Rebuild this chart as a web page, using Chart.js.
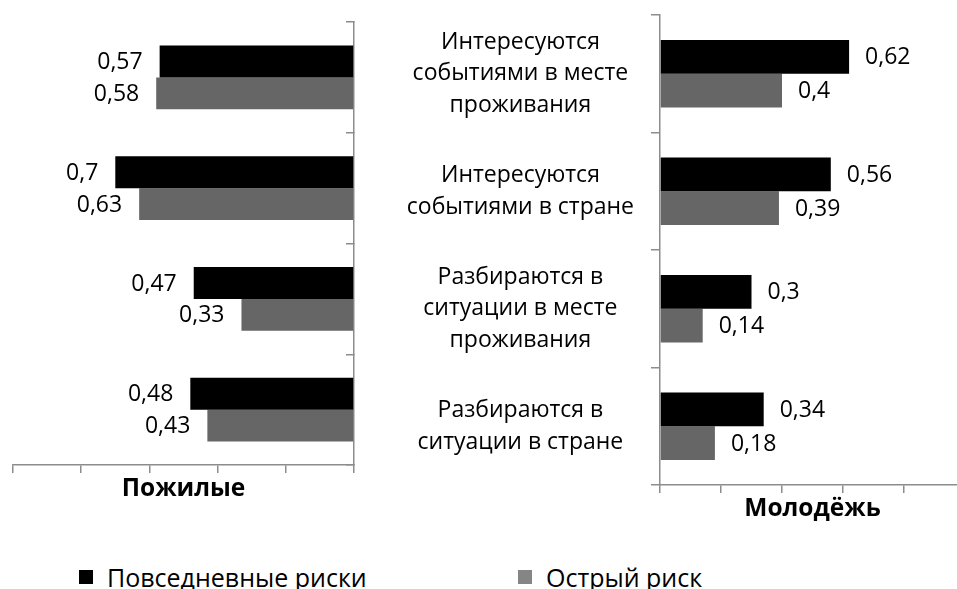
<!DOCTYPE html>
<html lang="ru">
<head>
<meta charset="utf-8">
<title>Пожилые и молодёжь</title>
<script src="https://cdn.jsdelivr.net/npm/chart.js@4.4.1/dist/chart.umd.min.js"></script>
<style>
  html, body { margin: 0; padding: 0; background: #fff; overflow: hidden; }
  body { width: 957px; height: 589px; position: relative; font-family: "Open Sans", sans-serif; }
  #left { position: absolute; left: 0; top: 0; width: 380px; height: 520px; }
  #right { position: absolute; left: 400px; top: 0; width: 600px; height: 540px; }
  .legend-item { position: absolute; top: 562px; height: 30px; display: flex; align-items: center; font-size: 25px; color: #000; white-space: nowrap; }
  .legend-item i { display: inline-block; width: 14px; height: 14px; margin-right: 14px; }
</style>
</head>
<body>
<div id="left"><canvas id="elderlyChart"></canvas></div>
<div id="right"><canvas id="youthChart"></canvas></div>
<div id="legend"></div>
<script>
// categories, top to bottom
const categories = [
    ['Интересуются', 'событиями в месте', 'проживания'],
    ['Интересуются', 'событиями в стране'],
    ['Разбираются в', 'ситуации в месте', 'проживания'],
    ['Разбираются в', 'ситуации в стране']
];
const seriesNames = ['Повседневные риски', 'Острый риск'];
const groupNames = ['Пожилые', 'Молодёжь'];

// values
const elderlyEveryday = [0.57, 0.7, 0.47, 0.48];
const elderlyAcute = [0.58, 0.63, 0.33, 0.43];
const youthEveryday = [0.62, 0.56, 0.3, 0.34];
const youthAcute = [0.4, 0.39, 0.14, 0.18];

const axisMin = 0;
const axisMax = 1;
const axisStep = 0.2;

const barColors = ['#000000', '#666666'];
const legendColors = ['#000000', '#858585'];
const axisColor = '#8c8c8c';
const fontFamily = '"Open Sans", sans-serif';
const labelSize = 23;

// draws value labels next to the bar ends
const valueLabels = {
    id: 'valueLabels',
    afterDatasetsDraw(chart, args, opts) {
        const ctx = chart.ctx;
        ctx.save();
        ctx.font = labelSize + 'px ' + fontFamily;
        ctx.fillStyle = '#000';
        ctx.textBaseline = 'middle';
        ctx.textAlign = opts.side === 'left' ? 'right' : 'left';
        chart.data.datasets.forEach(function(ds, i) {
            const meta = chart.getDatasetMeta(i);
            meta.data.forEach(function(bar, j) {
                const text = String(ds.data[j]).replace('.', ',');
                const x = opts.side === 'left' ? bar.x - opts.gap : bar.x + opts.gap;
                ctx.fillText(text, x, bar.y + 1);
            });
        });
        ctx.restore();
    }
};

function makeDatasets(everyday, acute) {
    return [everyday, acute].map(function(values, i) {
        return {
            label: seriesNames[i],
            data: values,
            backgroundColor: barColors[i],
            borderWidth: 0,
            categoryPercentage: 0.575,
            barPercentage: 1.0
        };
    });
}

function valueAxis(reverse, title) {
    return {
        type: 'linear',
        min: axisMin,
        max: axisMax,
        reverse: reverse,
        ticks: { display: false, stepSize: axisStep },
        grid: { drawOnChartArea: false, drawTicks: true, tickLength: 8, color: axisColor, lineWidth: 1.5 },
        border: { color: axisColor, width: 1.5 },
        title: {
            display: true,
            text: title,
            color: '#000',
            font: { family: fontFamily, size: 24.5, weight: 'bold', lineHeight: 1.2 },
            padding: { top: 0, bottom: 16 }
        },
        afterFit: function(scale) { scale.height = 55; }
    };
}

const commonOptions = {
    indexAxis: 'y',
    responsive: true,
    maintainAspectRatio: false,
    animation: false,
    events: []
};

new Chart(document.getElementById('elderlyChart'), {
    type: 'bar',
    data: { labels: categories, datasets: makeDatasets(elderlyEveryday, elderlyAcute) },
    options: Object.assign({}, commonOptions, {
        layout: { padding: { left: 13, top: 22, right: 0, bottom: 0 } },
        plugins: { legend: { display: false }, tooltip: { enabled: false }, valueLabels: { side: 'left', gap: 17 } },
        scales: {
            x: valueAxis(true, groupNames[0]),
            y: {
                position: 'right',
                ticks: { display: false },
                grid: { drawOnChartArea: false, drawTicks: true, tickLength: -8, color: axisColor, lineWidth: 1.5 },
                border: { color: axisColor, width: 1.5 },
                afterFit: function(scale) { scale.width = 26; }
            }
        }
    }),
    plugins: [valueLabels]
});

const youthChart = new Chart(document.getElementById('youthChart'), {
    type: 'bar',
    data: { labels: categories, datasets: makeDatasets(youthEveryday, youthAcute) },
    options: Object.assign({}, commonOptions, {
        layout: { padding: { left: 0, top: 15, right: 35, bottom: 0 } },
        plugins: { legend: { display: false }, tooltip: { enabled: false }, valueLabels: { side: 'right', gap: 16 } },
        scales: {
            x: valueAxis(false, groupNames[1]),
            y: {
                position: 'left',
                ticks: {
                    display: true,
                    color: '#000',
                    crossAlign: 'center',
                    padding: 17,
                    font: { family: fontFamily, size: labelSize, lineHeight: '31.7px' }
                },
                grid: { drawOnChartArea: false, drawTicks: true, tickLength: 9, color: axisColor, lineWidth: 1.5 },
                border: { color: axisColor, width: 1.5 },
                afterFit: function(scale) {
                    scale.width = 260;
                    // multi-line labels must not push the plot area in
                    scale.paddingTop = 0;
                    scale.paddingBottom = 0;
                }
            }
        }
    }),
    plugins: [valueLabels]
});

// legend under both charts, built from the series
const legendBox = document.getElementById('legend');
const legendLefts = [79, 518];
youthChart.data.datasets.forEach(function(ds, i) {
    const item = document.createElement('div');
    item.className = 'legend-item';
    item.style.left = legendLefts[i] + 'px';
    const swatch = document.createElement('i');
    swatch.style.background = legendColors[i];
    item.appendChild(swatch);
    item.appendChild(document.createTextNode(ds.label));
    legendBox.appendChild(item);
});
</script>
</body>
</html>
